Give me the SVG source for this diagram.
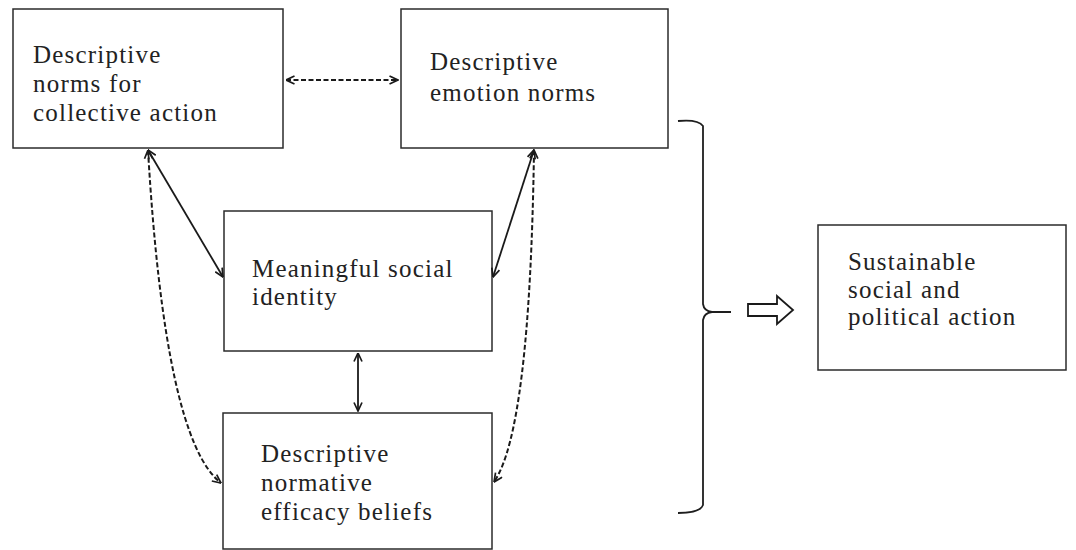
<svg xmlns="http://www.w3.org/2000/svg" width="1076" height="550" viewBox="0 0 1076 550">
  <style>
    .box { fill: #ffffff; stroke: #2b2b2b; stroke-width: 1.5; }
    .lbl { font-family: "Liberation Serif", "Times New Roman", serif; font-size: 25px; letter-spacing: 1.2px; fill: #222222; }
    .solid { fill: none; stroke: #1a1a1a; stroke-width: 1.8; }
    .dash { fill: none; stroke: #1a1a1a; stroke-width: 2; stroke-dasharray: 5 2.5; }
    .brace { fill: none; stroke: #1e1e1e; stroke-width: 1.8; }
  </style>
  <defs>
    <marker id="head" viewBox="0 0 10 10" refX="9.5" refY="5" markerWidth="10" markerHeight="10" markerUnits="userSpaceOnUse" orient="auto-start-reverse">
      <path d="M1,1 L9.5,5 L1,9" fill="none" stroke="#1a1a1a" stroke-width="1.7"/>
    </marker>
  </defs>

  <rect width="1076" height="550" fill="#ffffff"/>

  <g id="node-descriptive-norms">
    <rect class="box" x="13" y="9" width="270" height="139"/>
    <text class="lbl" x="33" y="63">Descriptive</text>
    <text class="lbl" x="33" y="92">norms for</text>
    <text class="lbl" x="33" y="121">collective action</text>
  </g>

  <g id="node-emotion-norms">
    <rect class="box" x="401" y="9" width="267" height="139"/>
    <text class="lbl" x="430" y="70">Descriptive</text>
    <text class="lbl" x="430" y="101">emotion norms</text>
  </g>

  <g id="node-social-identity">
    <rect class="box" x="224" y="211" width="268" height="140"/>
    <text class="lbl" x="252" y="277">Meaningful social</text>
    <text class="lbl" x="252" y="305">identity</text>
  </g>

  <g id="node-efficacy-beliefs">
    <rect class="box" x="223" y="413" width="269" height="136"/>
    <text class="lbl" x="261" y="462">Descriptive</text>
    <text class="lbl" x="261" y="491">normative</text>
    <text class="lbl" x="261" y="520">efficacy beliefs</text>
  </g>

  <g id="node-political-action">
    <rect class="box" x="818" y="225" width="248" height="145"/>
    <text class="lbl" x="848" y="270">Sustainable</text>
    <text class="lbl" x="848" y="298">social and</text>
    <text class="lbl" x="848" y="325">political action</text>
  </g>

  <g id="connectors">
    <!-- dashed link between the two descriptive norm boxes -->
    <line class="dash" x1="286" y1="80" x2="398" y2="80" marker-start="url(#head)" marker-end="url(#head)"/>
    <!-- solid links to the social identity box -->
    <line class="solid" x1="148" y1="150" x2="223" y2="277" marker-start="url(#head)" marker-end="url(#head)"/>
    <line class="solid" x1="534" y1="150" x2="493" y2="277" marker-start="url(#head)" marker-end="url(#head)"/>
    <line class="solid" x1="358" y1="353" x2="358" y2="411" marker-start="url(#head)" marker-end="url(#head)"/>
    <!-- dashed curved links to the efficacy beliefs box -->
    <path class="dash" d="M148,150 Q165,440 221,483" marker-start="url(#head)" marker-end="url(#head)"/>
    <path class="dash" d="M534,150 Q530,430 494,482" marker-start="url(#head)" marker-end="url(#head)"/>

    <!-- grouping brace -->
    <path class="brace" d="M678,121 Q698,119 703,126 L703,304 Q704,311 712,312 L731,312 M712,312 Q704,313 703,320 L703,505 Q700,513 678,513"/>
    <!-- hollow block arrow -->
    <path d="M748,304 L777,304 L777,296 L793,310 L777,324 L777,316 L748,316 Z" fill="#ffffff" stroke="#1a1a1a" stroke-width="1.8" stroke-linejoin="miter"/>
  </g>
</svg>
